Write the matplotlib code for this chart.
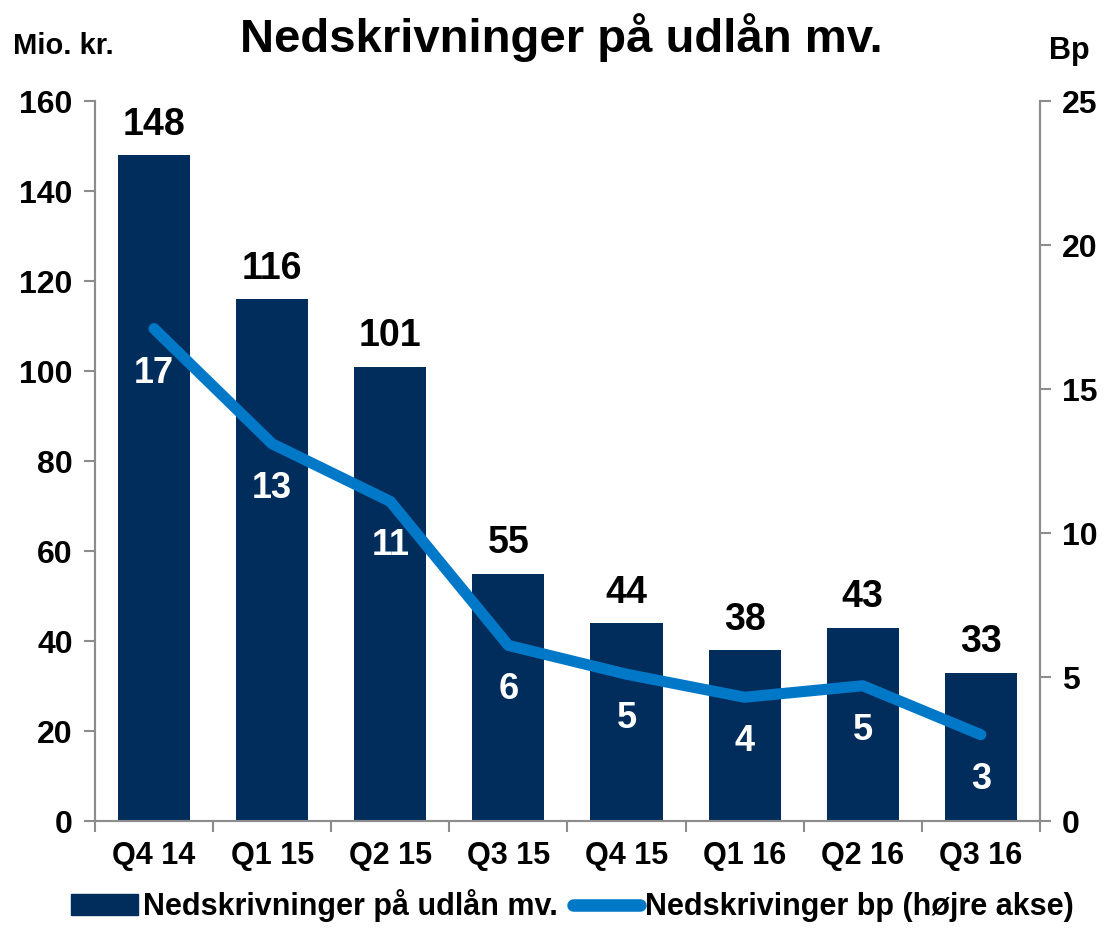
import matplotlib.pyplot as plt

plt.rcParams['font.family'] = ['Liberation Sans', 'DejaVu Sans']
plt.rcParams['font.weight'] = 'bold'

kvartaler = ['Q4 14', 'Q1 15', 'Q2 15', 'Q3 15', 'Q4 15', 'Q1 16', 'Q2 16', 'Q3 16']
nedskrivninger = [148, 116, 101, 55, 44, 38, 43, 33]
bp = [17.1, 13.1, 11.1, 6.1, 5.1, 4.3, 4.7, 3.0]
bp_labels = ['17', '13', '11', '6', '5', '4', '5', '3']

bar_color = '#002D5C'
line_color = '#0078C8'
grey = '#8C8C8C'

fig = plt.figure(figsize=(11.11, 9.32), dpi=100)
ax = fig.add_axes([0.0855, 0.119, 0.8505, 0.7725])
ax2 = ax.twinx()

x = list(range(len(kvartaler)))
ax.bar(x, nedskrivninger, width=0.61, color=bar_color, zorder=2)
for xi, v in zip(x, nedskrivninger):
    ax.annotate(str(v), (xi, v), xytext=(0, 22), textcoords='offset points',
                ha='center', va='center', fontsize=27, fontweight='bold')

ax2.plot(x, bp, color=line_color, lw=8, solid_capstyle='round', solid_joinstyle='round', zorder=3)
for xi, v, lab in zip(x, bp, bp_labels):
    ax2.annotate(lab, (xi, v), xytext=(0, -32), textcoords='offset points',
                 ha='center', va='center', fontsize=26, fontweight='bold', color='white')

ax.set_xlim(-0.5, len(kvartaler) - 0.5)
ax.set_ylim(0, 160)
ax.set_yticks(range(0, 161, 20))
ax2.set_ylim(0, 25)
ax2.set_yticks(range(0, 26, 5))

ax.set_xticks(x)
ax.set_xticklabels(kvartaler, fontsize=22, fontweight='bold')
ax.set_xticks([i + 0.5 for i in range(-1, len(kvartaler))], minor=True)
ax.tick_params(axis='x', which='major', length=0, pad=14)
ax.tick_params(axis='x', which='minor', length=8, color=grey, width=1.5)
ax.tick_params(axis='y', length=8, color=grey, width=1.5, labelsize=23, pad=8)
ax2.tick_params(axis='y', length=8, color=grey, width=1.5, labelsize=23, pad=8)
for lab in ax.get_yticklabels() + ax2.get_yticklabels():
    lab.set_fontweight('bold')

for a in (ax, ax2):
    a.spines['top'].set_visible(False)
    for s in ('left', 'right', 'bottom'):
        a.spines[s].set_color(grey)
        a.spines[s].set_linewidth(1.5)

fig.text(0.505, 0.96, 'Nedskrivninger på udlån mv.', ha='center', va='center',
         fontsize=34, fontweight='bold')
fig.text(0.012, 0.951, 'Mio. kr.', ha='left', va='center', fontsize=21, fontweight='bold')
fig.text(0.944, 0.945, 'Bp', ha='left', va='center', fontsize=22, fontweight='bold')

h1 = plt.Rectangle((0, 0), 1, 1, color=bar_color)
h2 = plt.Line2D([0], [0], color=line_color, lw=9, solid_capstyle='round')
fig.legend([h1, h2], ['Nedskrivninger på udlån mv.', 'Nedskrivinger bp (højre akse)'],
           loc='center', bbox_to_anchor=(0.515, 0.028), ncol=2, frameon=False,
           fontsize=22, handlelength=2.2, handletextpad=0.15, columnspacing=0.5)

fig.savefig('out.png', dpi=100)
